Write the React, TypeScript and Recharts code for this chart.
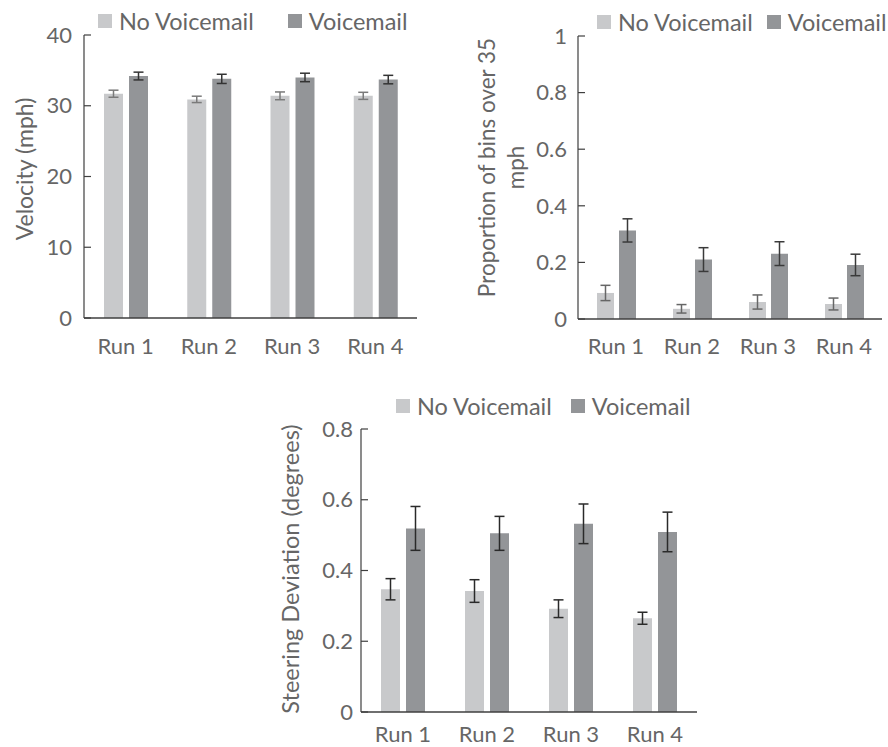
import React from 'react';
import { BarChart, Bar, XAxis, YAxis, ErrorBar, Legend } from 'recharts';

const categories = ['Run 1', 'Run 2', 'Run 3', 'Run 4'];

const velocityNo = [31.7, 30.9, 31.4, 31.4];
const velocityNoErr = [0.5, 0.45, 0.55, 0.5];
const velocityVm = [34.2, 33.8, 34.0, 33.7];
const velocityVmErr = [0.55, 0.65, 0.6, 0.6];

const propNo = [0.092, 0.036, 0.06, 0.053];
const propNoErr = [0.027, 0.015, 0.025, 0.021];
const propVm = [0.313, 0.21, 0.231, 0.191];
const propVmErr = [0.041, 0.042, 0.042, 0.038];

const steerNo = [0.347, 0.342, 0.292, 0.265];
const steerNoErr = [0.03, 0.032, 0.025, 0.017];
const steerVm = [0.519, 0.505, 0.532, 0.509];
const steerVmErr = [0.062, 0.048, 0.056, 0.056];

const velocityTicks = [0, 10, 20, 30, 40];
const propTicks = [0, 0.2, 0.4, 0.6, 0.8, 1];
const steerTicks = [0, 0.2, 0.4, 0.6, 0.8];

const seriesNames = ['No Voicemail', 'Voicemail'];

const build = (a: number[], ae: number[], b: number[], be: number[]) =>
  categories.map((c, i) => ({ name: c, no: a[i], noErr: ae[i], vm: b[i], vmErr: be[i] }));

const velocityData = build(velocityNo, velocityNoErr, velocityVm, velocityVmErr);
const propData = build(propNo, propNoErr, propVm, propVmErr);
const steerData = build(steerNo, steerNoErr, steerVm, steerVmErr);

const FONT = 'Lato, "Open Sans", sans-serif';
const TEXT = '#666666';
const AXIS = '#3f3f3f';
const LIGHT = '#c8c9cb';
const DARK = '#939598';
const TICK_SIZE = 22;

const YTick = (props: any) => {
  const { x, y, payload, margin } = props;
  const ax = x + margin;
  return (
    <g>
      <line x1={ax} x2={ax + 7} y1={y} y2={y} stroke={AXIS} strokeWidth={1.2} />
      <text x={x} y={y} dy="0.35em" textAnchor="end" fill={TEXT} fontSize={TICK_SIZE} fontFamily={FONT}>
        {String(payload.value)}
      </text>
    </g>
  );
};

const XTick = (props: any) => {
  const { x, y, payload } = props;
  return (
    <text x={x} y={y} dy="0.71em" textAnchor="middle" fill={TEXT} fontSize={TICK_SIZE} fontFamily={FONT}>
      {payload.value}
    </text>
  );
};

const makeLegend = (gap: number) => (props: any) => {
  const payload = props.payload || [];
  return (
    <div style={{ display: 'flex', alignItems: 'center', height: 28, fontFamily: FONT, fontSize: 23.5, color: TEXT, whiteSpace: 'nowrap' }}>
      {payload.map((p: any, i: number) => (
        <div key={i} style={{ display: 'flex', alignItems: 'center', marginLeft: i === 0 ? 0 : gap }}>
          <div style={{ width: 14, height: 14, background: p.color, marginRight: 7 }} />
          <span>{p.value}</span>
        </div>
      ))}
    </div>
  );
};

const rotLabel = (lines: { text: string; x: number }[], cy: number, size: number) => () => (
  <g>
    {lines.map((l, i) => (
      <text
        key={i}
        x={l.x}
        y={cy}
        transform={`rotate(-90, ${l.x}, ${cy})`}
        textAnchor="middle"
        dominantBaseline="central"
        fill={TEXT}
        fontSize={size}
        fontFamily={FONT}
      >
        {l.text}
      </text>
    ))}
  </g>
);

type PanelProps = {
  data: any[];
  left: number;
  top: number;
  width: number;
  height: number;
  margin: { top: number; right: number; bottom: number; left: number };
  yWidth: number;
  xHeight: number;
  domain: [number, number];
  ticks: number[];
  yTickMargin: number;
  xTickMargin: number;
  barSize: number;
  barGap: number;
  capWidth: number;
  noErrColor: string;
  vmErrColor: string;
  legendLeft: number;
  legendTop: number;
  legendGap: number;
  label: any;
};

const Panel = (p: PanelProps) => (
  <div style={{ position: 'absolute', left: p.left, top: p.top }}>
    <BarChart width={p.width} height={p.height} data={p.data} margin={p.margin} barSize={p.barSize} barGap={p.barGap}>
      <XAxis
        dataKey="name"
        height={p.xHeight}
        tickLine={false}
        tickSize={0}
        tickMargin={p.xTickMargin}
        axisLine={{ stroke: AXIS, strokeWidth: 1.5 }}
        tick={<XTick />}
        interval={0}
      />
      <YAxis
        width={p.yWidth}
        domain={p.domain}
        ticks={p.ticks}
        tickLine={false}
        tickSize={0}
        tickMargin={p.yTickMargin}
        axisLine={{ stroke: AXIS, strokeWidth: 1.2 }}
        tick={<YTick margin={p.yTickMargin} />}
        interval={0}
        label={p.label}
      />
      <Legend
        layout="horizontal"
        verticalAlign="middle"
        align="center"
        content={makeLegend(p.legendGap)}
        wrapperStyle={{ left: p.legendLeft, top: p.legendTop, width: 'auto' }}
      />
      <Bar dataKey="no" name={seriesNames[0]} fill={LIGHT} isAnimationActive={false}>
        <ErrorBar dataKey="noErr" width={p.capWidth} stroke={p.noErrColor} strokeWidth={1.5} direction="y" />
      </Bar>
      <Bar dataKey="vm" name={seriesNames[1]} fill={DARK} isAnimationActive={false}>
        <ErrorBar dataKey="vmErr" width={p.capWidth} stroke={p.vmErrColor} strokeWidth={1.5} direction="y" />
      </Bar>
    </BarChart>
  </div>
);

export default function App() {
  return (
    <div style={{ position: 'absolute', left: 0, top: 0, width: 888, height: 747, background: '#fff' }}>
      <Panel
        data={velocityData}
        left={0}
        top={0}
        width={430}
        height={360}
        margin={{ top: 35, right: 13, bottom: 12, left: 0 }}
        yWidth={84}
        xHeight={30}
        domain={[0, 40]}
        ticks={velocityTicks}
        yTickMargin={12}
        xTickMargin={20}
        barSize={19}
        barGap={6}
        capWidth={5}
        noErrColor="#7a7a7a"
        vmErrColor="#333333"
        legendLeft={98}
        legendTop={7}
        legendGap={34}
        label={rotLabel([{ text: 'Velocity (mph)', x: 24 }], 169, 23)}
      />
      <Panel
        data={propData}
        left={440}
        top={0}
        width={448}
        height={360}
        margin={{ top: 36, right: 6, bottom: 11, left: 0 }}
        yWidth={138}
        xHeight={30}
        domain={[0, 1]}
        ticks={propTicks}
        yTickMargin={11}
        xTickMargin={19}
        barSize={17}
        barGap={5}
        capWidth={5}
        noErrColor="#666666"
        vmErrColor="#3a3a3a"
        legendLeft={157}
        legendTop={8}
        legendGap={14}
        label={rotLabel([{ text: 'Proportion of bins over 35', x: 46.7 }, { text: 'mph', x: 75 }], 167.5, 22.5)}
      />
      <Panel
        data={steerData}
        left={250}
        top={380}
        width={460}
        height={367}
        margin={{ top: 49, right: 13, bottom: 7, left: 0 }}
        yWidth={111}
        xHeight={28}
        domain={[0, 0.8]}
        ticks={steerTicks}
        yTickMargin={8}
        xTickMargin={14}
        barSize={19}
        barGap={6}
        capWidth={5}
        noErrColor="#2a2a2a"
        vmErrColor="#2a2a2a"
        legendLeft={146}
        legendTop={12}
        legendGap={19}
        label={rotLabel([{ text: 'Steering Deviation (degrees)', x: 40 }], 189, 23.5)}
      />
    </div>
  );
}
